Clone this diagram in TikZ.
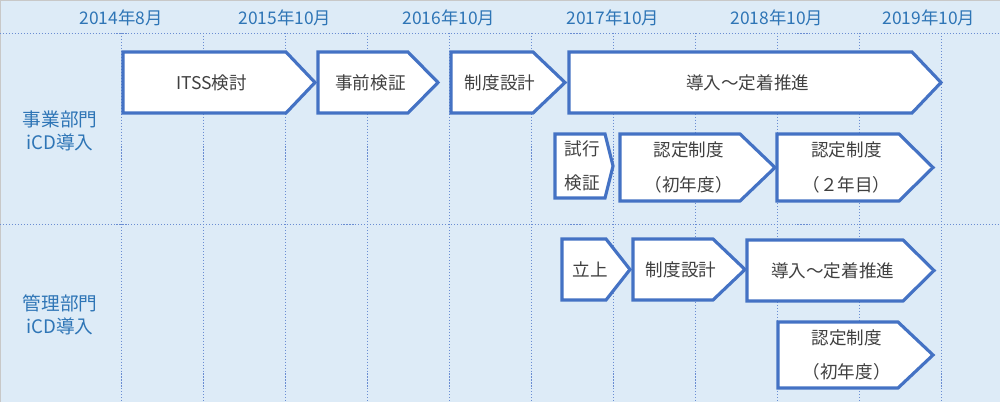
\documentclass[tikz,border=0pt]{standalone}
\usepackage{fontspec}
\setmainfont{Noto Sans CJK JP}
\usepackage{tikz}
\usetikzlibrary{positioning, calc}
\usepackage{xcolor}
\definecolor{PlanBack}{HTML}{DDEBF7}
\definecolor{PlanBlue}{HTML}{4472C4}
\definecolor{PlanGrid}{HTML}{6A8DD2}
\definecolor{PlanLabel}{HTML}{2E75B6}
\definecolor{PlanText}{HTML}{404040}
\definecolor{PlanFrame}{HTML}{C8C8C8}
\tikzset{
    % Grid styles
    gridline/.style={
        draw=PlanGrid,
        line width=0.5pt,
        dash pattern=on 0.6pt off 1.1pt
    },
    % Text styles
    yearlabel/.style={
        text=PlanLabel,
        font=\fontsize{9.9}{12}\selectfont
    },
    deptlabel/.style={
        text=PlanLabel,
        align=center,
        font=\fontsize{10.6}{13.2}\selectfont
    },
    % Step arrow styles
    stepline/.style={
        draw=PlanBlue,
        fill=white,
        line width=1.8pt,
        line join=miter
    },
    steptext/.style={
        text=PlanText,
        align=center,
        inner sep=0pt,
        font=\fontsize{10}{19.4}\selectfont
    }
}
% name, left, top, body right, tip, bottom, text
\newcommand{\planstep}[7]{%
    \draw[stepline] (#2,#3) -- (#4,#3) -- (#5,{(#3+#6)/2}) -- (#4,#6) -- (#2,#6) -- cycle;
    \node[steptext] (#1) at ({(#2+(#4+#5)/2)/2},{(#3+#6)/2}) {#7};
}

\begin{document}
\begin{tikzpicture}[x=0.02cm, y=-0.02cm]
    \useasboundingbox (0,0) rectangle (1000,402);
    \fill[PlanBack] (0,0) rectangle (1000,402);
    \draw[PlanFrame, line width=0.6pt] (0,402) -- (0,0.3) -- (1000,0.3);

    % Grid
    \draw[gridline] (0,33) -- (1000,33);
    \draw[gridline] (0,224) -- (1000,224);
    \foreach \k in {0,...,10}
        \draw[gridline] ({121+82*\k},33) -- ({121+82*\k},402);

    % Year labels
    \node[yearlabel] (y14) at (121,18) {2014年8月};
    \node[yearlabel] (y15) at (285,18) {2015年10月};
    \node[yearlabel] (y16) at (449,18) {2016年10月};
    \node[yearlabel] (y17) at (613,18) {2017年10月};
    \node[yearlabel] (y18) at (777,18) {2018年10月};
    \node[yearlabel] (y19) at (929,18) {2019年10月};

    % Departments
    \node[deptlabel] (jigyo) at (60,131) {事業部門\\iCD導入};
    \node[deptlabel] (kanri) at (60,315) {管理部門\\iCD導入};

    % Business division
    \planstep{itss}{123}{52}{286}{315}{113}{ITSS検討}
    \planstep{jizen}{318}{52}{408}{438}{113}{事前検証}
    \planstep{seido}{451}{52}{533}{565}{113}{制度設計}
    \planstep{donyu}{569}{52}{912}{941}{113}{導入～定着推進}
    \planstep{shiko}{555}{134}{605}{613}{198}{試行\\検証}
    \planstep{nintei}{620}{134}{740}{775}{201}{認定制度\\（初年度）}
    \planstep{ninteib}{777}{134}{899}{933}{201}{認定制度\\（２年目）}

    % Administration division
    \planstep{tachiage}{562}{239}{606}{630}{300}{立上}
    \planstep{kseido}{633}{239}{713}{745}{300}{制度設計}
    \planstep{kdonyu}{747}{240}{903}{934}{301}{導入～定着推進}
    \planstep{knintei}{778}{322}{898}{933}{388}{認定制度\\（初年度）}
\end{tikzpicture}
\end{document}
